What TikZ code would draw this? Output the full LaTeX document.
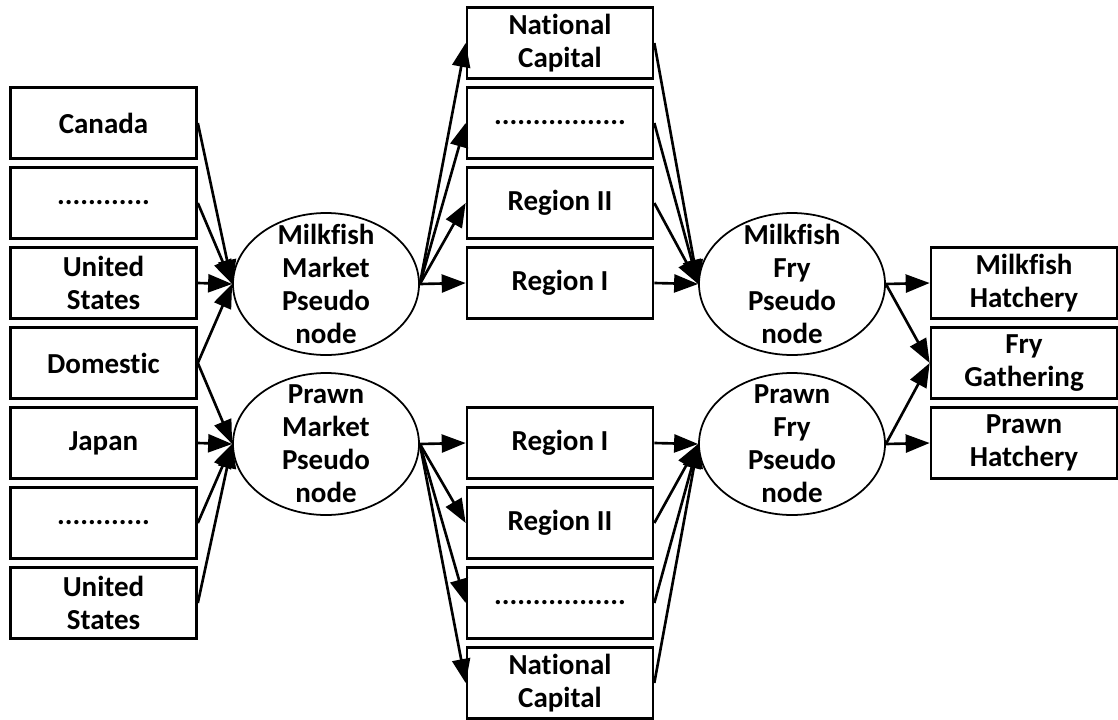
\documentclass[tikz,border=0pt]{standalone}
\usepackage{fontspec}
\setmainfont{Carlito}[Ligatures=NoCommon]
\usetikzlibrary{arrows.meta,shapes.geometric,positioning}
\tikzset{
    place box/.style={
        draw,line width=1.5pt,
        minimum width=3.72cm,minimum height=1.42cm,
        align=center,inner sep=0pt,
        font=\bfseries\fontsize{16.5}{18.8}\selectfont
    },
    pseudo node/.style={
        draw,line width=1pt,ellipse,
        minimum width=3.72cm,minimum height=2.84cm,inner sep=0pt
    },
    pseudo text/.style={
        align=center,inner sep=0pt,
        font=\bfseries\fontsize{16.5}{18.8}\selectfont
    },
    >={Triangle[length=0.48cm,width=0.36cm]},
    flow/.style={->,line width=1.5pt},
}
\begin{document}
\begin{tikzpicture}
\useasboundingbox (0,0) rectangle (22.36,-14.4);
% markets
\foreach \k/\name/\txt in {1/can/Canada,2/exa/{............},3/usa/{United\\States},
        4/dom/Domestic,5/jap/Japan,6/exb/{............},7/usb/{United\\States}}
    \node[place box] (\name) at (2.07,{-0.86-1.6*\k}) {\txt};
% pseudo nodes
\node[pseudo node] (mm) at (6.52,-5.68) {};
\node[pseudo text] (mmt) at (mm) {Milkfish\\Market\\Pseudo\\node};
\node[pseudo node] (pm) at (6.52,-8.88) {};
\node[pseudo text] (pmt) at (pm) {Prawn\\Market\\Pseudo\\node};
\node[pseudo node] (mf) at (15.84,-5.68) {};
\node[pseudo text] (mft) at (mf) {Milkfish\\Fry\\Pseudo\\node};
\node[pseudo node] (pf) at (15.84,-8.88) {};
\node[pseudo text] (pft) at (pf) {Prawn\\Fry\\Pseudo\\node};
% regions
\foreach \k/\name/\txt in {0/tnc/{National\\Capital},1/tdots/{.................},
        2/tr2/Region II,3/tr1/Region I,5/br1/Region I,6/br2/Region II,
        7/bdots/{.................},8/bnc/{National\\Capital}}
    \node[place box] (\name) at (11.2,{-0.86-1.6*\k}) {\txt};
% fry sources
\foreach \k/\name/\txt in {3/mh/{Milkfish\\Hatchery},4/fg/{Fry\\Gathering},5/ph/{Prawn\\Hatchery}}
    \node[place box] (\name) at (20.48,{-0.86-1.6*\k}) {\txt};
% arrows
\foreach \s in {can,exa,usa,dom}
    \draw[flow] (\s.east) -- (mm.west);
\foreach \s in {dom,jap,exb,usb}
    \draw[flow] (\s.east) -- (pm.west);
\foreach \t in {tnc,tdots,tr2,tr1}
    {\draw[flow] (mm.east) -- (\t.west);
     \draw[flow] (\t.east) -- (mf.west);}
\foreach \t in {br1,br2,bdots,bnc}
    {\draw[flow] (pm.east) -- (\t.west);
     \draw[flow] (\t.east) -- (pf.west);}
\draw[flow] (mf.east) -- (mh.west);
\draw[flow] (mf.east) -- (fg.west);
\draw[flow] (pf.east) -- (fg.west);
\draw[flow] (pf.east) -- (ph.west);
\end{tikzpicture}
\end{document}
